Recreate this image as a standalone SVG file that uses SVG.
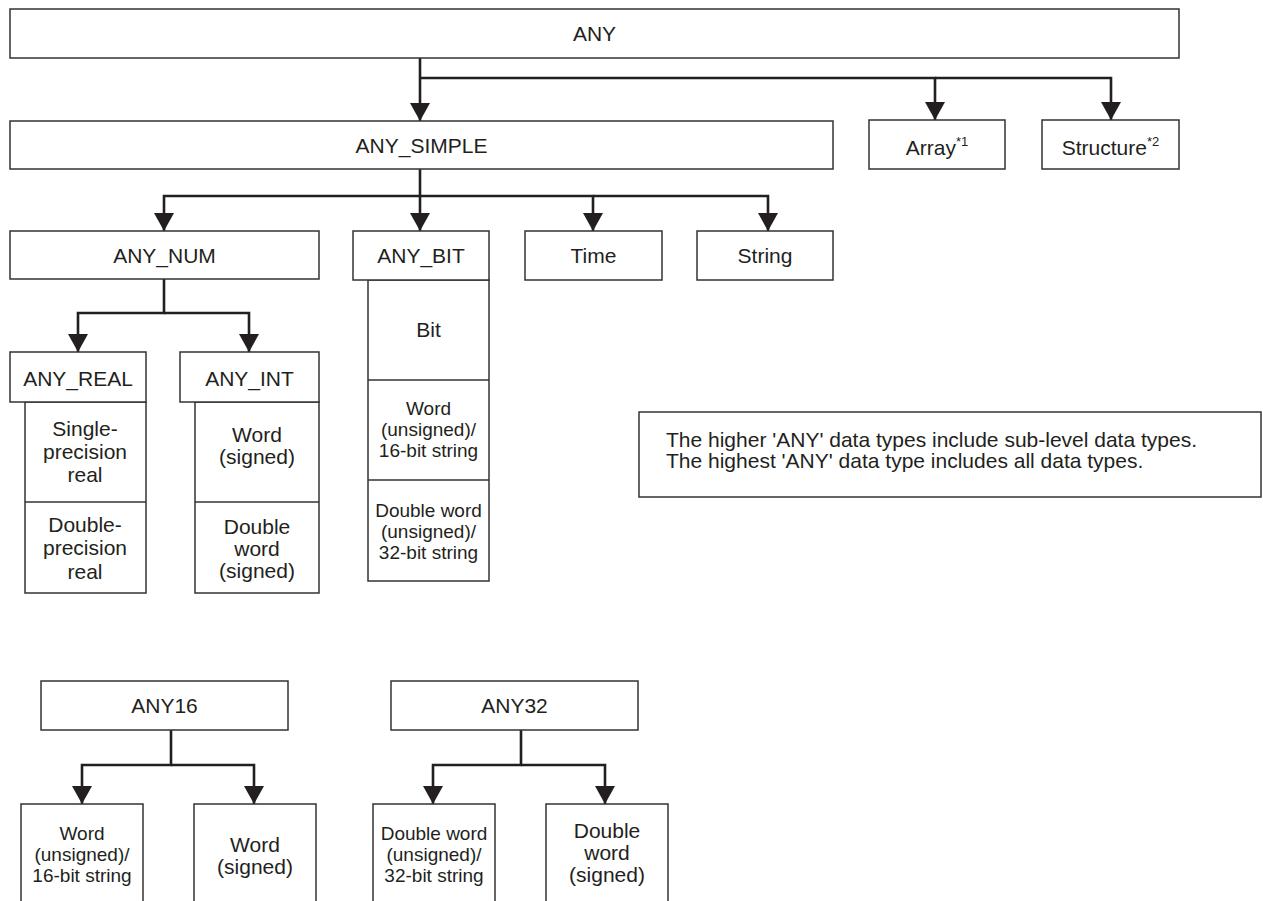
<svg xmlns="http://www.w3.org/2000/svg" width="1263" height="901" viewBox="0 0 1263 901">
<style>
.b{fill:#fff;stroke:#333;stroke-width:1.5}
.c{fill:none;stroke:#231f20;stroke-width:2.6}
text{font-family:"Liberation Sans",Arial,sans-serif;fill:#231f20;text-anchor:middle}
.t{font-size:21px}
.s{font-size:19px}
.n{font-size:21px;text-anchor:start}
.sup{font-size:13px}
</style>
<defs>
<marker id="ah" viewBox="0 0 18 20" refX="18" refY="10" markerWidth="18" markerHeight="20" markerUnits="userSpaceOnUse" orient="auto">
<path d="M0,0 L18,10 L0,20 z" fill="#231f20"/>
</marker>
</defs>
<rect width="1263" height="901" fill="#fff"/>

<g id="connectors">
<path class="c" d="M420,58 V121" marker-end="url(#ah)"/>
<path class="c" d="M420,78 H935 V120" marker-end="url(#ah)"/>
<path class="c" d="M935,78 H1111 V120" marker-end="url(#ah)"/>
<path class="c" d="M420,169 V231" marker-end="url(#ah)"/>
<path class="c" d="M420,196 H164 V231" marker-end="url(#ah)"/>
<path class="c" d="M420,196 H593 V231" marker-end="url(#ah)"/>
<path class="c" d="M593,196 H768 V231" marker-end="url(#ah)"/>
<path class="c" d="M164,279 V313 H78 V352" marker-end="url(#ah)"/>
<path class="c" d="M164,313 H249 V352" marker-end="url(#ah)"/>
<path class="c" d="M171,730 V765 H82 V804" marker-end="url(#ah)"/>
<path class="c" d="M171,765 H254 V804" marker-end="url(#ah)"/>
<path class="c" d="M521,730 V765 H433 V804" marker-end="url(#ah)"/>
<path class="c" d="M521,765 H605 V804" marker-end="url(#ah)"/>
</g>

<g id="any">
<rect class="b" x="10" y="9" width="1169" height="49"/>
<text class="t" x="594.5" y="41">ANY</text>
</g>
<g id="any_simple">
<rect class="b" x="10" y="121" width="823" height="48"/>
<text class="t" x="421.5" y="153">ANY_SIMPLE</text>
</g>
<g id="array">
<rect class="b" x="869" y="120" width="136" height="49"/>
<text class="t" x="937" y="155">Array<tspan class="sup" dy="-9">*1</tspan></text>
</g>
<g id="structure">
<rect class="b" x="1042" y="120" width="137" height="49"/>
<text class="t" x="1110.5" y="155">Structure<tspan class="sup" dy="-9">*2</tspan></text>
</g>

<g id="any_num">
<rect class="b" x="10" y="231" width="309" height="48"/>
<text class="t" x="164.5" y="263">ANY_NUM</text>
</g>
<g id="any_bit">
<rect class="b" x="368" y="280" width="121" height="301"/>
<line class="b" x1="368" y1="380" x2="489" y2="380"/>
<line class="b" x1="368" y1="480" x2="489" y2="480"/>
<rect class="b" x="353" y="231" width="136" height="49"/>
<text class="t" x="421" y="263">ANY_BIT</text>
<text class="t" x="428.5" y="337">Bit</text>
<text class="s" x="428.5" y="415">Word</text>
<text class="s" x="428.5" y="436">(unsigned)/</text>
<text class="s" x="428.5" y="457">16-bit string</text>
<text class="s" x="428.5" y="517">Double word</text>
<text class="s" x="428.5" y="538">(unsigned)/</text>
<text class="s" x="428.5" y="559">32-bit string</text>
</g>
<g id="time">
<rect class="b" x="525" y="231" width="137" height="49"/>
<text class="t" x="593.5" y="263">Time</text>
</g>
<g id="string">
<rect class="b" x="697" y="231" width="136" height="49"/>
<text class="t" x="765" y="263">String</text>
</g>

<g id="any_real">
<rect class="b" x="25" y="402" width="121" height="191"/>
<line class="b" x1="25" y1="502" x2="146" y2="502"/>
<rect class="b" x="10" y="352" width="136" height="50"/>
<text class="t" x="78" y="386">ANY_REAL</text>
<text class="t" x="85" y="436">Single-</text>
<text class="t" x="85" y="459">precision</text>
<text class="t" x="85" y="482">real</text>
<text class="t" x="85" y="532">Double-</text>
<text class="t" x="85" y="555">precision</text>
<text class="t" x="85" y="579">real</text>
</g>
<g id="any_int">
<rect class="b" x="195" y="402" width="124" height="191"/>
<line class="b" x1="195" y1="502" x2="319" y2="502"/>
<rect class="b" x="180" y="352" width="139" height="50"/>
<text class="t" x="249.5" y="386">ANY_INT</text>
<text class="t" x="257" y="442">Word</text>
<text class="t" x="257" y="464">(signed)</text>
<text class="t" x="257" y="534">Double</text>
<text class="t" x="257" y="556">word</text>
<text class="t" x="257" y="578">(signed)</text>
</g>

<g id="note">
<rect class="b" x="639" y="412" width="622" height="85"/>
<text class="n" x="666" y="447">The higher 'ANY' data types include sub-level data types.</text>
<text class="n" x="666" y="468">The highest 'ANY' data type includes all data types.</text>
</g>

<g id="any16">
<rect class="b" x="41" y="681" width="247" height="49"/>
<text class="t" x="164.5" y="713">ANY16</text>
</g>
<g id="any16_unsigned">
<rect class="b" x="21" y="804" width="122" height="120"/>
<text class="s" x="82" y="840">Word</text>
<text class="s" x="82" y="861">(unsigned)/</text>
<text class="s" x="82" y="882">16-bit string</text>
</g>
<g id="any16_signed">
<rect class="b" x="194" y="804" width="122" height="120"/>
<text class="t" x="255" y="852">Word</text>
<text class="t" x="255" y="874">(signed)</text>
</g>
<g id="any32">
<rect class="b" x="391" y="681" width="247" height="49"/>
<text class="t" x="514.5" y="713">ANY32</text>
</g>
<g id="any32_unsigned">
<rect class="b" x="373" y="804" width="122" height="120"/>
<text class="s" x="434" y="840">Double word</text>
<text class="s" x="434" y="861">(unsigned)/</text>
<text class="s" x="434" y="882">32-bit string</text>
</g>
<g id="any32_signed">
<rect class="b" x="546" y="804" width="122" height="120"/>
<text class="t" x="607" y="838">Double</text>
<text class="t" x="607" y="860">word</text>
<text class="t" x="607" y="882">(signed)</text>
</g>
</svg>
